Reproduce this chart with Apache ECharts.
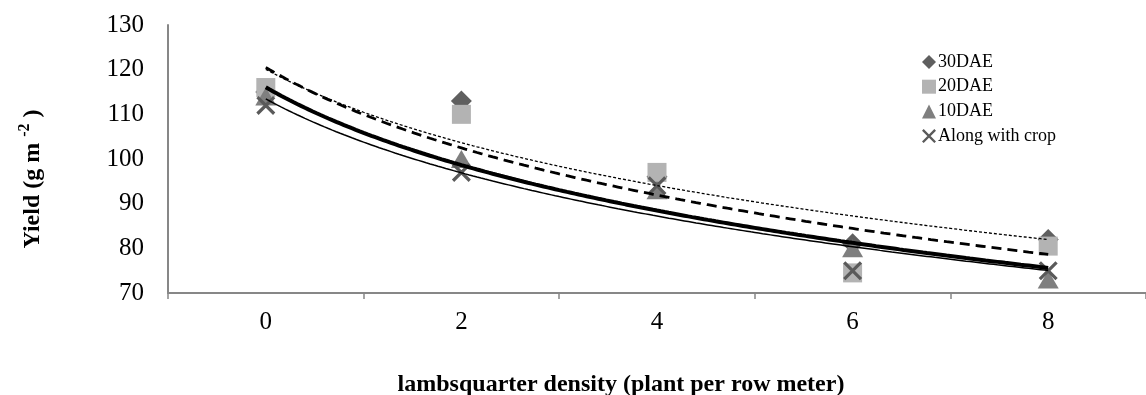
<!DOCTYPE html>
<html><head><meta charset="utf-8">
<script src="https://cdn.jsdelivr.net/npm/echarts@6/dist/echarts.min.js"></script>
<style>html,body{margin:0;padding:0;background:#fff}#c{width:1146px;height:395px}</style>
</head><body><div id="c"></div>
<script>
const categories = ['0', '2', '4', '6', '8'];
const seriesNames = ['30DAE', '20DAE', '10DAE', 'Along with crop'];
const dae30 = [115, 113, 96, 81, 82];
const dae20 = [116, 110, 97, 74.5, 80.5];
const dae10 = [114, 100, 93, 80, 73];
const alongCrop = [112, 97, 94, 75, 75];
const yTicks = [70, 80, 90, 100, 110, 120, 130];

const FONT = '"Liberation Serif", "Times New Roman", serif';
const values = [dae30, dae20, dae10, alongCrop];
const colors = ['#5f5f5f', '#b3b3b3', '#7f7f7f', '#5a5a5a'];
const xPath = 'path://M0,1.2L1.2,0L10,8.8L8.8,10Z M8.8,0L10,1.2L1.2,10L0,8.8Z';
const symbols = ['diamond', 'rect', 'triangle', xPath];
const sizes = [[21, 21], [19, 19], [21, 18], [19, 19]];
const trendStyles = [
  {type: [3, 2], width: 1.3},
  {type: [10, 6], width: 2.8},
  {type: 'solid', width: 4},
  {type: 'solid', width: 1.5}
];

// Excel-style logarithmic trendline (y = a ln(x) + b, x = category index 1..n), fitted from the data
function logFit(arr) {
  const n = arr.length;
  const lx = arr.map((_, i) => Math.log(i + 1));
  const mx = lx.reduce((s, v) => s + v, 0) / n;
  const my = arr.reduce((s, v) => s + v, 0) / n;
  let sxy = 0, sxx = 0;
  for (let i = 0; i < n; i++) { sxy += (lx[i] - mx) * (arr[i] - my); sxx += (lx[i] - mx) ** 2; }
  const a = sxy / sxx, b = my - a * mx;
  const pts = [];
  for (let k = 0; k <= 200; k++) { const t = 1 + (n - 1) * k / 200; pts.push([t, a * Math.log(t) + b]); }
  return pts;
}

const series = [];
values.forEach((arr, i) => {
  series.push({
    name: seriesNames[i], type: 'scatter', xAxisIndex: 0, yAxisIndex: 0,
    data: arr, symbol: symbols[i], symbolSize: sizes[i],
    itemStyle: {color: colors[i], opacity: 1}, z: 2 + i
  });
});
values.forEach((arr, i) => {
  series.push({
    name: 'trend' + i, type: 'line', xAxisIndex: 1, yAxisIndex: 0,
    data: logFit(arr), showSymbol: false, symbol: 'none', smooth: false,
    lineStyle: {color: '#000', width: trendStyles[i].width, type: trendStyles[i].type},
    z: 10, silent: true
  });
});

const chart = echarts.init(document.getElementById('c'), null, {renderer: 'canvas'});
chart.setOption({
  animation: false,
  backgroundColor: '#fff',
  grid: {left: 168, right: -7, top: 25, bottom: 102},
  xAxis: [{
    type: 'category', data: categories, boundaryGap: true,
    axisLine: {lineStyle: {color: '#878787', width: 2}},
    axisTick: {show: true, length: 6, lineStyle: {color: '#878787', width: 1.5}},
    axisLabel: {fontFamily: FONT, fontSize: 25, color: '#000', margin: 17},
    splitLine: {show: false}
  }, {
    type: 'value', min: 0.5, max: 5.5, show: false
  }],
  yAxis: {
    type: 'value', min: yTicks[0], max: yTicks[yTicks.length - 1], interval: 10,
    axisLine: {show: true, lineStyle: {color: '#878787', width: 2}},
    axisTick: {show: false},
    splitLine: {show: false},
    axisLabel: {fontFamily: FONT, fontSize: 25, color: '#000', margin: 24}
  },
  legend: {
    orient: 'vertical', left: 917, top: 48,
    itemWidth: 14, itemHeight: 14, itemGap: 6.7,
    data: seriesNames.map((n, i) => ({name: n, icon: symbols[i]})),
    textStyle: {fontFamily: FONT, fontSize: 18, color: '#000', padding: [0, 0, 0, -3], lineHeight: 18},
    selectedMode: false
  },
  graphic: [{
    type: 'text', x: 621, y: 385,
    style: {text: 'lambsquarter density (plant per row meter)', font: 'bold 24px ' + FONT, fill: '#000', align: 'center', verticalAlign: 'middle'}
  }, {
    type: 'text', x: 33, y: 179, rotation: Math.PI / 2,
    style: {
      text: 'Yield (g m {s|-2} )', font: 'bold 24px ' + FONT, fill: '#000', align: 'center', verticalAlign: 'middle',
      rich: {s: {font: 'bold 16px ' + FONT, fill: '#000', verticalAlign: 'top', padding: [0, 0, 16, 0]}}
    }
  }],
  series: series
});
</script></body></html>
